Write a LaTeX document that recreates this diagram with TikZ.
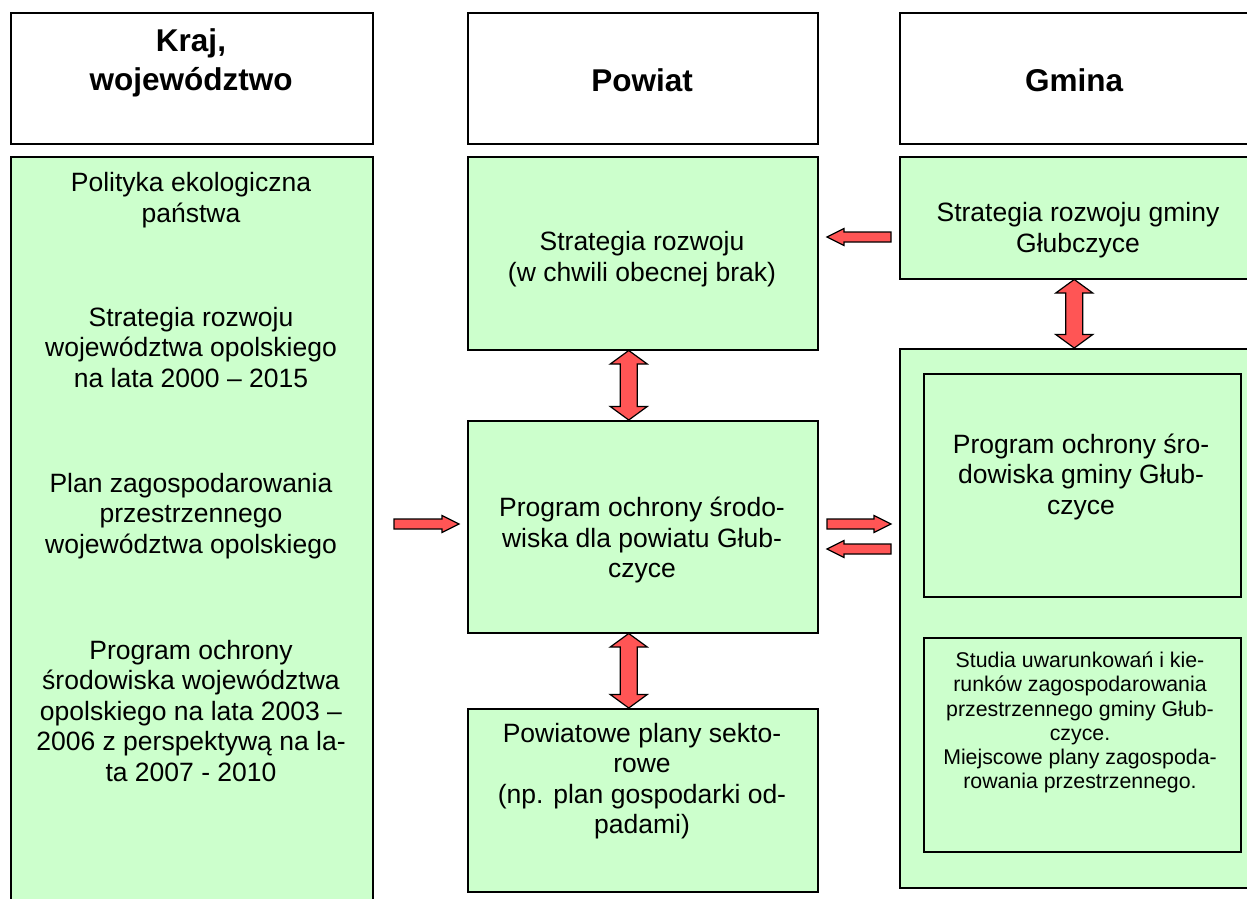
\documentclass[tikz,border=0pt]{standalone}
\usepackage{fontspec}
\setmainfont{Liberation Sans}
\usetikzlibrary{calc}
\definecolor{boxgreen}{RGB}{204,255,204}
\definecolor{arrowred}{RGB}{255,85,85}
\tikzset{
  frame/.style={draw=black, line width=1.5pt, inner sep=0pt, anchor=north west},
  hdrbox/.style={frame, fill=white},
  grnbox/.style={frame, fill=boxgreen},
  bigtxt/.style={font=\fontsize{26.5}{30.5}\selectfont, align=center, inner sep=0pt},
  hdrtxt/.style={font=\bfseries\fontsize{31.5}{38.5}\selectfont, align=center, inner sep=0pt},
  smalltxt/.style={font=\fontsize{21.3}{24.2}\selectfont, align=center, inner sep=0pt},
  redarrow/.style={draw=black, line width=1.2pt, fill=arrowred, line join=miter},
}
% single block arrow: #1 tail, #2 tip
\newcommand{\redsarrow}[2]{%
  \coordinate (sb) at ($(#2)!17pt!(#1)$);
  \draw[redarrow] ($(#1)!5pt!90:(#2)$) -- ($(sb)!5pt!90:(#2)$) -- ($(sb)!8.5pt!90:(#2)$) -- (#2)
    -- ($(sb)!8.5pt!-90:(#2)$) -- ($(sb)!5pt!-90:(#2)$) -- ($(#1)!5pt!-90:(#2)$) -- cycle;}
% double block arrow between #1 and #2
\newcommand{\reddarrow}[2]{%
  \coordinate (dba) at ($(#1)!13.5pt!(#2)$);
  \coordinate (dbb) at ($(#2)!13.5pt!(#1)$);
  \draw[redarrow] (#1) -- ($(dba)!18.5pt!90:(#2)$) -- ($(dba)!8.5pt!90:(#2)$) -- ($(dbb)!8.5pt!90:(#2)$)
    -- ($(dbb)!18.5pt!90:(#2)$) -- (#2) -- ($(dbb)!18.5pt!-90:(#2)$) -- ($(dbb)!8.5pt!-90:(#2)$)
    -- ($(dba)!8.5pt!-90:(#2)$) -- ($(dba)!18.5pt!-90:(#2)$) -- cycle;}
\begin{document}
\begin{tikzpicture}[x=1pt, y=-1pt]
\useasboundingbox (0,0) rectangle (1247,898);
% headers
\node[hdrbox, minimum width=362pt, minimum height=131pt] (hL) at (10,12) {};
\node[hdrbox, minimum width=350pt, minimum height=131pt] (hM) at (467,12) {};
\node[hdrbox, minimum width=350pt, minimum height=131pt] (hR) at (899,12) {};
\node[hdrtxt] (hLt) at (191,63) {Kraj,\\województwo};
\node[hdrtxt] (hMt) at (642,80) {Powiat};
\node[hdrtxt] (hRt) at (1074,80) {Gmina};
% left column
\node[grnbox, minimum width=362pt, minimum height=760pt] (L) at (10,156) {};
\node[bigtxt] (l1) at (191,200) {Polityka ekologiczna\\państwa};
\node[bigtxt] (l2) at (191,347.5) {Strategia rozwoju\\województwa opolskiego\\na lata 2000 – 2015};
\node[bigtxt] (l3) at (191,516) {Plan zagospodarowania\\przestrzennego\\województwa opolskiego};
\node[bigtxt] (l4) at (191,711) {Program ochrony\\środowiska województwa\\opolskiego na lata 2003 –\\2006 z perspektywą na la-\\ta 2007 - 2010};
% middle column
\node[grnbox, minimum width=350pt, minimum height=193pt] (strat) at (467,156) {};
\node[grnbox, minimum width=350pt, minimum height=212pt] (prog) at (467,420) {};
\node[grnbox, minimum width=350pt, minimum height=183pt] (plany) at (467,708) {};
\node[bigtxt] (stratt) at (642,259) {Strategia rozwoju\\(w chwili obecnej brak)};
\node[bigtxt] (progt) at (642,540) {Program ochrony środo-\\wiska dla powiatu Głub-\\czyce};
\node[bigtxt] (planyt) at (642,781) {Powiatowe plany sekto-\\rowe\\(np. plan gospodarki od-\\padami)};
% right column
\node[grnbox, minimum width=358pt, minimum height=122pt] (gstrat) at (899,156) {};
\node[bigtxt] (gstratt) at (1078,230) {Strategia rozwoju gminy\\Głubczyce};
\node[grnbox, minimum width=365pt, minimum height=539pt] (gout) at (899,348) {};
\node[grnbox, minimum width=317pt, minimum height=223pt] (gin1) at (923,373) {};
\node[grnbox, minimum width=317pt, minimum height=214pt] (gin2) at (923,637) {};
\node[bigtxt] (gin1t) at (1081,476.5) {Program ochrony śro-\\dowiska gminy Głub-\\czyce};
\node[smalltxt] (gin2t) at (1080,722.5) {Studia uwarunkowań i kie-\\runków zagospodarowania\\przestrzennego gminy Głub-\\czyce.\\Miejscowe plany zagospoda-\\rowania przestrzennego.};
% arrow end points
\coordinate (a1t) at (394,524);
\coordinate (a1h) at (459,524);
\coordinate (a2t) at (827,524);
\coordinate (a2h) at (891,524);
\coordinate (a3t) at (891,549);
\coordinate (a3h) at (827,549);
\coordinate (a4t) at (891,237);
\coordinate (a4h) at (827,237);
\coordinate (v1a) at ([xshift=-14pt]strat.south);
\coordinate (v1b) at ([xshift=-14pt]prog.north);
\coordinate (v2a) at ([xshift=-14pt]prog.south);
\coordinate (v2b) at ([xshift=-14pt]plany.north);
\coordinate (v3a) at ([xshift=-4.5pt]gstrat.south);
\coordinate (v3b) at (v3a |- gout.north);
\redsarrow{a1t}{a1h}
\redsarrow{a2t}{a2h}
\redsarrow{a3t}{a3h}
\redsarrow{a4t}{a4h}
\reddarrow{v1a}{v1b}
\reddarrow{v2a}{v2b}
\reddarrow{v3a}{v3b}
\end{tikzpicture}
\end{document}
